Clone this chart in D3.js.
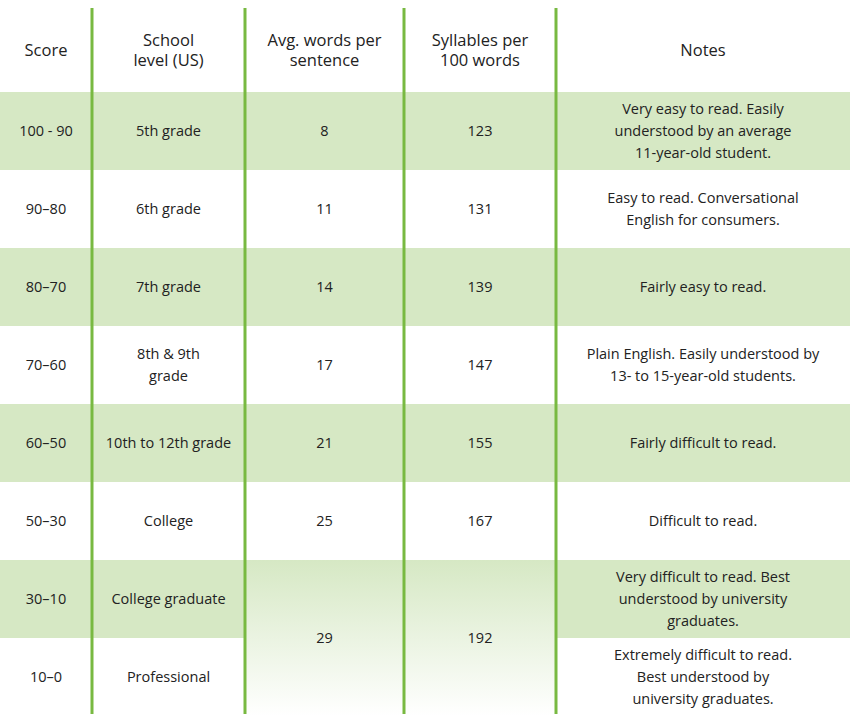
<!DOCTYPE html>
<html><head><meta charset="utf-8">
<script src="https://cdn.jsdelivr.net/npm/d3@7"></script>
<style>body{margin:0;background:#fff}</style>
</head><body>
<script>
var headers = [["Score"], ["School", "level (US)"], ["Avg. words per", "sentence"], ["Syllables per", "100 words"], ["Notes"]];
var scores = ["100 - 90", "90\u201380", "80\u201370", "70\u201360", "60\u201350", "50\u201330", "30\u201310", "10\u20130"];
var levels = [["5th grade"], ["6th grade"], ["7th grade"], ["8th & 9th", "grade"], ["10th to 12th grade"], ["College"], ["College graduate"], ["Professional"]];
var words = [8, 11, 14, 17, 21, 25, 29, 29];
var syllables = [123, 131, 139, 147, 155, 167, 192, 192];
var notes = [
  ["Very easy to read. Easily", "understood by an average", "11-year-old student."],
  ["Easy to read. Conversational", "English for consumers."],
  ["Fairly easy to read."],
  ["Plain English. Easily understood by", "13- to 15-year-old students."],
  ["Fairly difficult to read."],
  ["Difficult to read."],
  ["Very difficult to read. Best", "understood by university", "graduates."],
  ["Extremely difficult to read.", "Best understood by", "university graduates."]
];

var width = 850, height = 719;
var colEdges = [0, 92, 245, 404, 556, 850];
var green = "#d6e8c4", line = "#78b941";

var svg = d3.select("body").append("svg").attr("width", width).attr("height", height);
var defs = svg.append("defs");
var grad = defs.append("linearGradient").attr("id", "fade").attr("x1", 0).attr("x2", 0).attr("y1", 0).attr("y2", 1);
grad.append("stop").attr("offset", "0%").attr("stop-color", green);
grad.append("stop").attr("offset", "100%").attr("stop-color", "#fff");

var y = d3.scaleBand().domain(d3.range(-1, scores.length)).range([14, 716]);
var rowH = y.bandwidth();

// shaded rows
svg.selectAll("rect.band").data(d3.range(scores.length).filter(function(i) { return i % 2 === 0; }))
  .enter().append("rect")
  .attr("x", 0).attr("width", width)
  .attr("y", function(i) { return y(i); }).attr("height", rowH)
  .attr("fill", green);

// merged cells (last two rows, cols 3 and 4)
svg.append("rect").attr("x", colEdges[2]).attr("width", colEdges[4] - colEdges[2])
  .attr("y", y(6)).attr("height", rowH * 2).attr("fill", "url(#fade)");

var rows = d3.range(scores.length).map(function(i) {
  return [[scores[i]], levels[i], i >= 6 ? null : [String(words[i])], i >= 6 ? null : [String(syllables[i])], notes[i]];
});

function cellText(lines, cx, cy, size, lh) {
  var t = svg.append("text").attr("text-anchor", "middle")
    .attr("font-family", "'Open Sans', Lato, sans-serif").attr("font-size", size).attr("fill", "#222");
  lines.forEach(function(l, k) {
    t.append("tspan").attr("x", cx)
      .attr("y", cy + (k - (lines.length - 1) / 2) * lh + size * 0.36).text(l);
  });
}

function colCenter(c) { return (colEdges[c] + colEdges[c + 1]) / 2; }

headers.forEach(function(h, c) { cellText(h, colCenter(c), 50, 16.5, 20); });
rows.forEach(function(r, i) {
  r.forEach(function(cell, c) {
    if (cell) cellText(cell, colCenter(c), y(i) + rowH / 2, 14.5, 22);
  });
});
cellText(["29"], colCenter(2), y(7), 14.5, 22);
cellText(["192"], colCenter(3), y(7), 14.5, 22);

// vertical rules
svg.selectAll("line.rule").data(colEdges.slice(1, 5)).enter().append("line")
  .attr("x1", function(d) { return d; }).attr("x2", function(d) { return d; })
  .attr("y1", 8).attr("y2", 714)
  .attr("stroke", line).attr("stroke-width", 3);
</script>
</body></html>
